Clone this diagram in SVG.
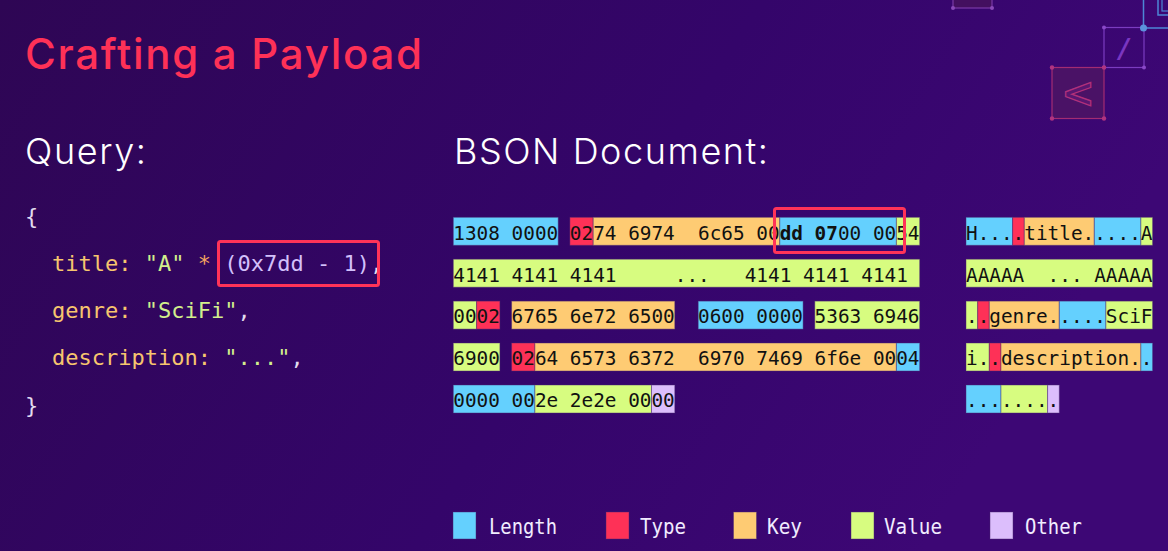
<svg xmlns="http://www.w3.org/2000/svg" width="1168" height="551" viewBox="0 0 1168 551">
<defs>
<linearGradient id="bg" x1="0" y1="0" x2="1" y2="0.3">
<stop offset="0" stop-color="#2e0654"/>
<stop offset="0.6" stop-color="#34056a"/>
<stop offset="1" stop-color="#3d0775"/>
</linearGradient>
<style>
.hx{font-family:"DejaVu Sans Mono",monospace;font-size:19.37px;fill:#111;white-space:pre}
.b{font-weight:bold}
.L{fill:#64d0fe}.T{fill:#fe3157}.K{fill:#fecb73}.V{fill:#d7fc80}.O{fill:#dcbefc}
.bx rect{stroke:#4a2a70;stroke-opacity:0.45;stroke-width:1}
.code{font-family:"DejaVu Sans Mono",monospace;font-size:22px;white-space:pre}
.k{fill:#f7c56e}.s{fill:#d2ef8c}.op{fill:#f3a35e}.n{fill:#d3c0fb}.p{fill:#e2dcef}
.hl{fill:none;stroke:#ff3358;stroke-width:3}
.lg{font-family:"DejaVu Sans Mono",monospace;font-size:21px;fill:#f1ecff}
.h2{font-family:Inter,"Open Sans",sans-serif;font-weight:300;font-size:36px;fill:#ffffff}
</style>
</defs>
<rect width="1168" height="551" fill="url(#bg)"/>

<g id="decor">
<rect x="953" y="-32" width="39" height="40" fill="#43105f" stroke="#7a3aa6" stroke-width="1.2"/>
<circle cx="953" cy="8" r="2" fill="#8a48b8"/><circle cx="992" cy="8" r="2" fill="#8a48b8"/>
<rect x="1104" y="27.5" width="40" height="40" fill="none" stroke="#7b3cc0" stroke-width="1.2"/>
<circle cx="1104" cy="27.5" r="2" fill="#8a48c8"/><circle cx="1104" cy="67.5" r="2" fill="#8a48c8"/><circle cx="1144" cy="67.5" r="2" fill="#8a48c8"/>
<text x="1124" y="58" text-anchor="middle" font-family="DejaVu Sans,sans-serif" font-size="26" font-weight="bold" font-style="italic" fill="#7a36c0">/</text>
<rect x="1052" y="67.5" width="52" height="51" fill="#4a1266" stroke="#a32c72" stroke-width="1.2"/>
<circle cx="1052" cy="67.5" r="2.2" fill="#b03480"/><circle cx="1104" cy="67.5" r="2.2" fill="#b03480"/><circle cx="1052" cy="118.5" r="2.2" fill="#b03480"/><circle cx="1104" cy="118.5" r="2.2" fill="#b03480"/>
<text x="1078" y="107" text-anchor="middle" font-family="DejaVu Sans,sans-serif" font-size="40" font-weight="bold" fill="#5a1670" stroke="#b0307a" stroke-width="1.3">&lt;</text>
<path d="M1143.5 0V28H1168" fill="none" stroke="#4d86d6" stroke-width="1.5"/>
<circle cx="1143.5" cy="28" r="3.5" fill="#5c92dc"/>
<rect x="1158" y="-20" width="30" height="35" fill="none" stroke="#4d86d6" stroke-width="1.5"/>
<rect x="1162" y="-20" width="30" height="31" fill="none" stroke="#4d86d6" stroke-width="1.2"/>
</g>

<g id="title"><text x="25" y="69" font-family="Inter,'Open Sans',sans-serif" font-weight="500" font-size="42" fill="#fe3157" textLength="397">Crafting a Payload</text></g>
<g id="query-label"><text class="h2" x="25" y="164" textLength="121">Query:</text></g>
<g id="bson-label"><text class="h2" x="454" y="164" textLength="314">BSON Document:</text></g>

<g id="query-code" class="code">
<text x="25" y="224" class="p">{</text>
<text x="52" y="271"><tspan class="k">title:</tspan><tspan class="p"> </tspan><tspan class="s">"A"</tspan><tspan class="op"> * </tspan><tspan class="n">(0x7dd - 1)</tspan><tspan class="p">,</tspan></text>
<text x="52" y="318"><tspan class="k">genre:</tspan><tspan class="p"> </tspan><tspan class="s">"SciFi"</tspan><tspan class="p">,</tspan></text>
<text x="52" y="365"><tspan class="k">description:</tspan><tspan class="p"> </tspan><tspan class="s">"..."</tspan><tspan class="p">,</tspan></text>
<text x="25" y="413" class="p">}</text>
<rect class="hl" x="218.5" y="241.5" width="160" height="44" rx="2"/>
</g>

<g id="hex-row1">
<g class="bx">
<rect class="L" x="453.3" y="217.3" width="104.9" height="28"/>
<rect class="T" x="569.9" y="217.3" width="23.3" height="28"/>
<rect class="K" x="593.2" y="217.3" width="186.6" height="28"/>
<rect class="L" x="779.8" y="217.3" width="116.6" height="28"/>
<rect class="V" x="896.4" y="217.3" width="23.3" height="28"/>
</g>
<text class="hx" x="453.3" y="239.6">1308 0000 0274 6974  6c65 00<tspan class="b">dd 07</tspan>00 0054</text>
<rect class="hl" x="774.5" y="208.5" width="130" height="44" rx="2"/>
</g>

<g id="hex-row2">
<g class="bx"><rect class="V" x="453.3" y="259.2" width="466.4" height="28"/></g>
<text class="hx" x="453.3" y="281.5">4141 4141 4141     ...   4141 4141 4141</text>
</g>

<g id="hex-row3">
<g class="bx">
<rect class="V" x="453.3" y="301.1" width="23.3" height="28"/>
<rect class="T" x="476.6" y="301.1" width="23.3" height="28"/>
<rect class="K" x="511.6" y="301.1" width="163.2" height="28"/>
<rect class="L" x="698.2" y="301.1" width="104.9" height="28"/>
<rect class="V" x="814.8" y="301.1" width="104.9" height="28"/>
</g>
<text class="hx" x="453.3" y="323.4">0002 6765 6e72 6500  0600 0000 5363 6946</text>
</g>

<g id="hex-row4">
<g class="bx">
<rect class="V" x="453.3" y="343" width="46.6" height="28"/>
<rect class="T" x="511.6" y="343" width="23.3" height="28"/>
<rect class="K" x="534.9" y="343" width="361.5" height="28"/>
<rect class="L" x="896.4" y="343" width="23.3" height="28"/>
</g>
<text class="hx" x="453.3" y="365.3">6900 0264 6573 6372  6970 7469 6f6e 0004</text>
</g>

<g id="hex-row5">
<g class="bx">
<rect class="L" x="453.3" y="385" width="81.6" height="28"/>
<rect class="V" x="534.9" y="385" width="116.6" height="28"/>
<rect class="O" x="651.5" y="385" width="23.3" height="28"/>
</g>
<text class="hx" x="453.3" y="407.3">0000 002e 2e2e 0000</text>
</g>

<g id="ascii-row1">
<g class="bx">
<rect class="L" x="966" y="217.3" width="46.6" height="28"/>
<rect class="T" x="1012.6" y="217.3" width="11.7" height="28"/>
<rect class="K" x="1024.3" y="217.3" width="70" height="28"/>
<rect class="L" x="1094.3" y="217.3" width="46.6" height="28"/>
<rect class="V" x="1140.9" y="217.3" width="11.7" height="28"/>
</g>
<text class="hx" x="966" y="239.6">H....title.....A</text>
</g>
<g id="ascii-row2">
<g class="bx"><rect class="V" x="966" y="259.2" width="186.6" height="28"/></g>
<text class="hx" x="966" y="281.5">AAAAA  ... AAAAA</text>
</g>
<g id="ascii-row3">
<g class="bx">
<rect class="V" x="966" y="301.1" width="11.7" height="28"/>
<rect class="T" x="977.7" y="301.1" width="11.6" height="28"/>
<rect class="K" x="989.3" y="301.1" width="70" height="28"/>
<rect class="L" x="1059.3" y="301.1" width="46.6" height="28"/>
<rect class="V" x="1105.9" y="301.1" width="46.7" height="28"/>
</g>
<text class="hx" x="966" y="323.4">..genre.....SciF</text>
</g>
<g id="ascii-row4">
<g class="bx">
<rect class="V" x="966" y="343" width="23.3" height="28"/>
<rect class="T" x="989.3" y="343" width="11.7" height="28"/>
<rect class="K" x="1001" y="343" width="139.9" height="28"/>
<rect class="L" x="1140.9" y="343" width="11.7" height="28"/>
</g>
<text class="hx" x="966" y="365.3">i..description..</text>
</g>
<g id="ascii-row5">
<g class="bx">
<rect class="L" x="966" y="385" width="35" height="28"/>
<rect class="V" x="1001" y="385" width="46.6" height="28"/>
<rect class="O" x="1047.6" y="385" width="11.7" height="28"/>
</g>
<text class="hx" x="966" y="407.3">........</text>
</g>

<g id="legend">
<g class="bx">
<rect class="L" x="453" y="512" width="23" height="27"/>
<rect class="T" x="606" y="512" width="23" height="27"/>
<rect class="K" x="733.5" y="512" width="23" height="27"/>
<rect class="V" x="851" y="512" width="23" height="27"/>
<rect class="O" x="990" y="512" width="23" height="27"/>
</g>
<text class="lg" x="489" y="534" textLength="68" lengthAdjust="spacingAndGlyphs">Length</text>
<text class="lg" x="640" y="534" textLength="46" lengthAdjust="spacingAndGlyphs">Type</text>
<text class="lg" x="767" y="534" textLength="35" lengthAdjust="spacingAndGlyphs">Key</text>
<text class="lg" x="884" y="534" textLength="58" lengthAdjust="spacingAndGlyphs">Value</text>
<text class="lg" x="1025" y="534" textLength="57" lengthAdjust="spacingAndGlyphs">Other</text>
</g>
</svg>
